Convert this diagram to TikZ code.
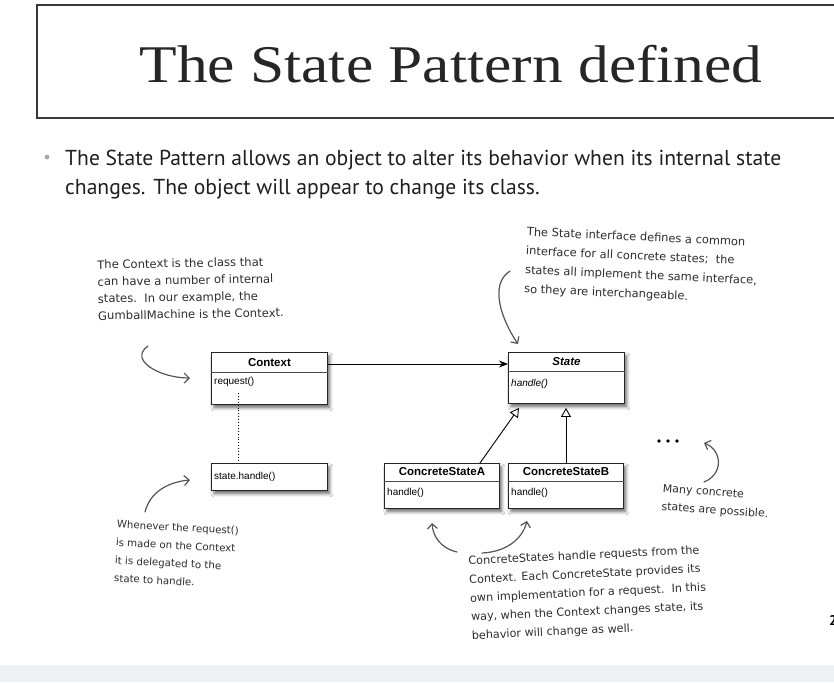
\documentclass[tikz,border=0pt]{standalone}
\usepackage{fontspec}
\setmainfont{Liberation Serif}
\newfontfamily\umlfont{Liberation Sans}
\newfontfamily\bodyfont{PT Sans}
\newfontfamily\handfont{DejaVu Sans}
\usetikzlibrary{shadows.blur, arrows.meta, calc}

\definecolor{framegrey}{HTML}{3A3A3A}
\definecolor{bandgrey}{HTML}{EEF0F3}
\definecolor{inkgrey}{HTML}{2E2E2E}
\definecolor{arrowgrey}{HTML}{555555}
\definecolor{dotgrey}{HTML}{A8A8A8}

\tikzset{
  umlbox/.style={draw=black!85, line width=0.9pt, fill=white, anchor=north west,
    minimum width=116, inner sep=0pt,
    blur shadow={shadow xshift=2.5pt, shadow yshift=-3.5pt, shadow blur radius=3pt, shadow opacity=55}},
  umlsep/.style={draw=black!70, line width=0.6pt},
  umltitle/.style={font=\umlfont\bfseries\fontsize{11.5}{13}\selectfont, inner sep=0pt},
  umlop/.style={font=\umlfont\fontsize{10}{12}\selectfont, anchor=west, inner sep=0pt},
  note/.style={text=inkgrey, align=left, anchor=north west, inner sep=0pt},
  notearrow/.style={draw=arrowgrey, line width=1.2pt, line cap=round,
    -{Straight Barb[length=5pt, width=10pt]}},
  bodytext/.style={font=\bodyfont\fontsize{21.6}{29}\selectfont, text=black!88,
    anchor=base west, inner sep=0pt},
}

\begin{document}
\begin{tikzpicture}[x=1pt, y=-1pt]
  \useasboundingbox (0,0) rectangle (834,682);
  \fill[white] (0,0) rectangle (834,682);
  \fill[bandgrey] (0,665) rectangle (834,682);

  % title frame and heading
  \draw[framegrey, line width=2pt] (37,5) rectangle (850,118);
  \node[anchor=base, font=\fontsize{53}{60}\selectfont, text=black!85, xscale=1.16, inner sep=0pt]
    (title) at (451,83) {The State Pattern defined};

  % bullet point
  \fill[dotgrey] (47,157) circle (2.4);
  \node[bodytext] (line1) at (65,165)
    {The State Pattern allows an object to alter its behavior when its internal state};
  \node[bodytext] (line2) at (65,194)
    {changes. The object will appear to change its class.};

  % class boxes
  \node[umlbox, minimum height=52] (ctx) at (211,352) {};
  \draw[umlsep] ($(ctx.north west)+(0,20)$) -- ($(ctx.north east)+(0,20)$);
  \node[umltitle] (ctxname) at ($(ctx.north)+(0,11)$) {Context};
  \node[umlop] (ctxop) at ($(ctx.north west)+(3,30)$) {request()};

  \node[umlbox, minimum height=27] (call) at (211,463) {};
  \node[umlop] (callop) at ($(call.west)+(3,0)$) {state.handle()};

  \node[umlbox, minimum height=51] (st) at (508,352) {};
  \draw[umlsep] ($(st.north west)+(0,19)$) -- ($(st.north east)+(0,19)$);
  \node[umltitle, font=\umlfont\bfseries\itshape\fontsize{11.5}{13}\selectfont] (stname) at ($(st.north)+(0,10)$) {State};
  \node[umlop, font=\umlfont\itshape\fontsize{10}{12}\selectfont] (stop) at ($(st.north west)+(3,32)$) {handle()};

  \node[umlbox, minimum width=115, minimum height=45] (csa) at (384,463) {};
  \draw[umlsep] ($(csa.north west)+(0,18)$) -- ($(csa.north east)+(0,18)$);
  \node[umltitle] (csaname) at ($(csa.north)+(0,9)$) {ConcreteStateA};
  \node[umlop] (csaop) at ($(csa.north west)+(3,30)$) {handle()};

  \node[umlbox, minimum width=115, minimum height=45] (csb) at (508,463) {};
  \draw[umlsep] ($(csb.north west)+(0,18)$) -- ($(csb.north east)+(0,18)$);
  \node[umltitle] (csbname) at ($(csb.north)+(0,9)$) {ConcreteStateB};
  \node[umlop] (csbop) at ($(csb.north west)+(3,30)$) {handle()};

  % connectors between classes
  \draw[line width=1pt, -{Stealth[length=9pt, width=7pt]}]
    ($(ctx.north east)+(0,12)$) -- ($(st.north west)+(0,12)$);
  \draw[dotted, line width=0.9pt]
    ($(ctx.north west)+(27,41)$) -- ($(call.north west)+(27,-2)$);
  \draw[line width=0.9pt, -{Triangle[open, length=9pt, width=10pt]}]
    ($(csa.north west)+(96,0)$) -- ($(st.south west)+(11,4)$);
  \draw[line width=0.9pt, -{Triangle[open, length=9pt, width=10pt]}]
    ($(csb.north west)+(58,0)$) -- ($(st.south west)+(58,4)$);

  % more concrete states
  \foreach \dx in {0,9,18} \fill (659+\dx,441) circle (1.9);

  % handwritten notes
  \node[note, rotate=1, font=\handfont\fontsize{11.6}{17}\selectfont] (ctxnote) at (97,260)
    {The Context is the class that\\can have a number of internal\\states.\ \ In our example, the\\GumballMachine is the Context.};
  \node[note, rotate=-2.6, font=\handfont\fontsize{11.4}{19}\selectfont] (stnote) at (527,227)
    {The State interface defines a common\\interface for all concrete states;\ \ the\\states all implement the same interface,\\so they are interchangeable.};
  \node[note, rotate=-4, font=\handfont\fontsize{11}{18}\selectfont] (manynote) at (663,484)
    {Many concrete\\states are possible.};
  \node[note, rotate=-3, font=\handfont\fontsize{10.2}{18}\selectfont] (reqnote) at (117,520)
    {Whenever the request()\\is made on the Context\\it is delegated to the\\state to handle.};
  \node[note, rotate=2.7, font=\handfont\fontsize{11.2}{18.7}\selectfont] (csnote) at (468,556)
    {ConcreteStates handle requests from the\\Context. Each ConcreteState provides its\\own implementation for a request.\ \ In this\\way, when the Context changes state, its\\behavior will change as well.};

  % note pointers
  \draw[notearrow] (148,346) .. controls (128,360) and (160,378) .. (190,378);
  \draw[notearrow] (510,271) .. controls (488,285) and (503,322) .. (518,344);
  \draw[notearrow] (704,482) .. controls (724,474) and (722,450) .. (704,443);
  \draw[notearrow] (145,512) .. controls (150,492) and (168,482) .. (190,480);
  \draw[notearrow] (457,552) .. controls (440,548) and (433,536) .. (432,523);
  \draw[notearrow] (482,553) .. controls (505,552) and (522,540) .. (527,521);

  % page number at the edge
  \node[anchor=west, font=\bodyfont\bfseries\fontsize{14}{16}\selectfont, inner sep=0pt] (pagenum) at (829,620) {2};
\end{tikzpicture}
\end{document}
